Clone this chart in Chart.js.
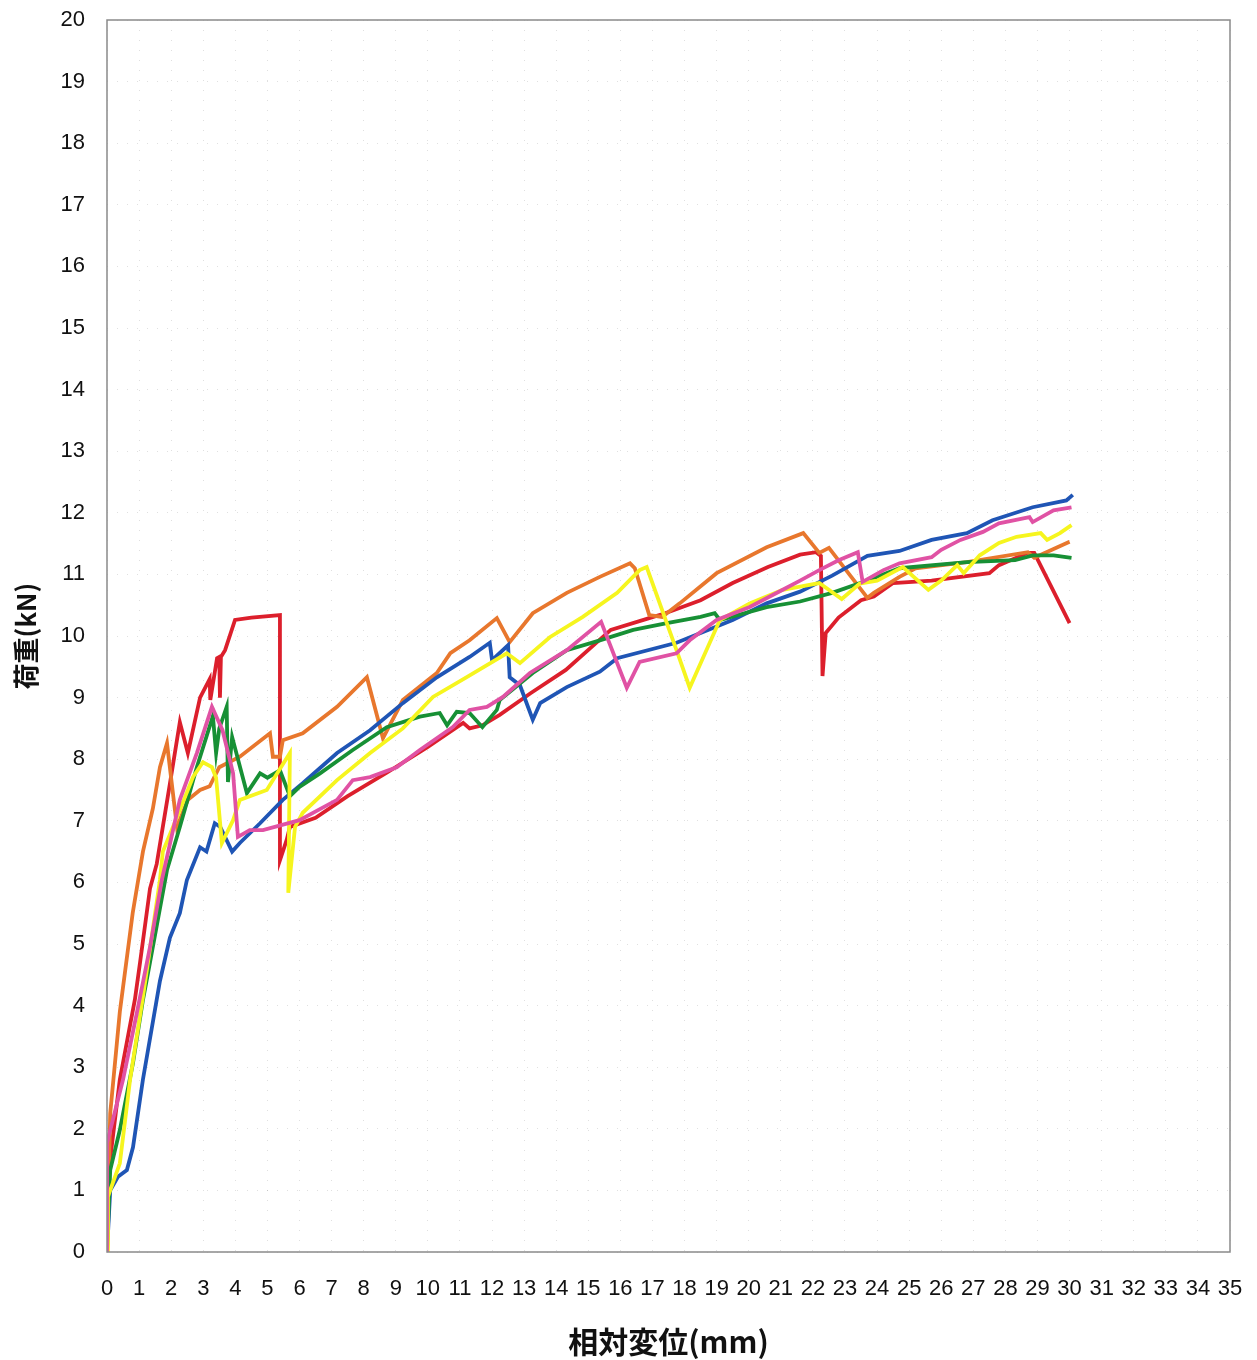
<!DOCTYPE html>
<html>
<head>
<meta charset="utf-8">
<script src="https://cdn.jsdelivr.net/npm/chart.js@4.4.0/dist/chart.umd.min.js"></script>
<style>
  body { margin:0; background:#fff; }
</style>
</head>
<body>
<canvas id="c" width="1257" height="1360"></canvas>
<script>
// load (kN) vs relative displacement (mm), six specimens
var red = [[0,0],[0.05,1.3],[0.4,2.8],[0.87,4.1],[1.03,4.7],[1.34,5.9],[1.55,6.3],[1.96,7.6],[2.27,8.6],[2.52,8.1],[2.9,9.0],[3.2,9.3],[3.22,8.96],[3.43,9.64],[3.5,9.66],[3.52,9.0],[3.55,9.66],[3.68,9.77],[3.99,10.26],[4.5,10.3],[5.39,10.34],[5.39,6.36],[5.6,6.69],[5.7,6.9],[6.5,7.05],[7.5,7.4],[8.72,7.78],[10.0,8.2],[11.1,8.59],[11.3,8.5],[11.7,8.55],[12.24,8.72],[13.2,9.07],[14.3,9.45],[15.7,10.1],[16.9,10.29],[17.4,10.37],[18.5,10.58],[19.5,10.86],[20.6,11.12],[21.6,11.32],[22.1,11.36],[22.25,11.3],[22.3,9.35],[22.4,10.05],[22.8,10.3],[23.5,10.58],[23.9,10.64],[24.5,10.86],[25.7,10.9],[27.5,11.02],[27.8,11.15],[28.7,11.35],[28.9,11.35],[30.0,10.21]]
var orange = [[0,0],[0.1,2.25],[0.4,3.9],[0.8,5.5],[1.12,6.5],[1.43,7.2],[1.65,7.87],[1.87,8.26],[2.18,6.9],[2.52,7.34],[2.9,7.5],[3.2,7.56],[3.5,7.87],[4.14,8.04],[5.08,8.42],[5.17,8.04],[5.39,8.04],[5.48,8.31],[6.1,8.42],[7.17,8.85],[8.1,9.33],[8.6,8.34],[9.22,8.96],[10.28,9.4],[10.7,9.72],[11.3,9.93],[12.15,10.29],[12.55,9.9],[13.27,10.37],[14.33,10.7],[15.36,10.96],[16.3,11.18],[16.45,11.1],[16.9,10.34],[17.3,10.31],[17.85,10.53],[19.0,11.02],[20.56,11.44],[21.7,11.67],[22.2,11.35],[22.5,11.43],[23.7,10.62],[23.9,10.7],[24.7,10.96],[25.2,11.1],[26.8,11.2],[28.7,11.36],[28.9,11.27],[30.0,11.53]]
var blue = [[0,0],[0.1,1.0],[0.34,1.22],[0.62,1.33],[0.81,1.7],[1.12,2.8],[1.65,4.4],[1.96,5.1],[2.27,5.5],[2.49,6.04],[2.9,6.57],[3.1,6.5],[3.36,6.96],[3.53,6.9],[3.9,6.5],[4.14,6.64],[4.77,6.96],[5.48,7.34],[6.1,7.61],[7.17,8.1],[8.2,8.47],[9.22,8.91],[10.28,9.33],[11.3,9.66],[11.93,9.89],[12.0,9.61],[12.5,9.85],[12.55,9.33],[12.87,9.2],[13.27,8.64],[13.5,8.91],[14.33,9.17],[15.36,9.42],[15.9,9.64],[17.75,9.89],[18.5,10.05],[19.5,10.26],[20.56,10.53],[21.6,10.72],[22.6,10.98],[23.7,11.3],[24.7,11.38],[25.7,11.56],[26.8,11.67],[27.6,11.88],[28.85,12.09],[29.9,12.2],[30.1,12.29]]
var green = [[0,0],[0.1,1.33],[0.4,1.98],[0.81,3.07],[1.12,4.09],[1.34,4.7],[1.87,6.2],[2.27,6.9],[2.8,7.87],[3.3,8.7],[3.4,8.1],[3.5,8.5],[3.73,8.85],[3.77,7.63],[3.9,8.36],[4.36,7.45],[4.77,7.77],[5.0,7.7],[5.39,7.82],[5.7,7.4],[6.0,7.55],[6.64,7.77],[7.66,8.15],[8.72,8.52],[9.75,8.69],[10.37,8.75],[10.6,8.55],[10.9,8.77],[11.3,8.75],[11.7,8.52],[12.15,8.8],[12.24,8.96],[13.27,9.4],[14.33,9.77],[15.36,9.93],[16.4,10.1],[17.45,10.21],[18.5,10.31],[18.94,10.37],[19.1,10.26],[20.56,10.47],[21.6,10.56],[22.6,10.7],[23.7,10.9],[24.7,11.1],[26.8,11.2],[28.3,11.23],[28.85,11.31],[29.5,11.31],[30.06,11.27]]
var yellow = [[0,0],[0.03,0.9],[0.4,1.44],[0.72,2.8],[1.12,4.14],[1.65,6.04],[1.74,6.5],[2.18,7.06],[2.68,7.71],[2.99,7.95],[3.27,7.87],[3.4,7.7],[3.58,6.64],[3.93,7.01],[4.14,7.34],[4.98,7.5],[5.7,8.1],[5.65,5.83],[5.86,6.9],[6.1,7.13],[7.17,7.66],[8.2,8.1],[9.22,8.5],[10.16,9.01],[11.2,9.33],[12.46,9.72],[12.87,9.56],[13.8,9.98],[14.83,10.31],[15.9,10.7],[16.6,11.07],[16.82,11.12],[17.75,9.77],[18.16,9.16],[19.1,10.26],[20.03,10.53],[21.06,10.75],[21.6,10.8],[22.2,10.86],[22.9,10.6],[23.46,10.85],[24.0,10.9],[24.8,11.12],[25.6,10.75],[26.0,10.9],[26.5,11.15],[26.7,11.02],[27.2,11.31],[27.8,11.51],[28.35,11.61],[29.1,11.67],[29.3,11.56],[29.7,11.67],[30.06,11.8]]
var pink = [[0,0],[0,1.77],[0.5,2.8],[0.93,3.88],[1.34,4.95],[1.71,6.04],[2.27,7.34],[2.8,8.1],[3.27,8.85],[3.6,8.47],[3.93,7.77],[4.08,6.74],[4.45,6.85],[4.86,6.85],[6.0,7.01],[7.17,7.34],[7.66,7.66],[8.2,7.71],[9.03,7.87],[9.75,8.15],[10.78,8.52],[11.3,8.8],[11.84,8.85],[12.34,9.01],[13.18,9.4],[14.33,9.77],[15.4,10.23],[16.2,9.16],[16.6,9.58],[17.75,9.72],[18.16,9.93],[19.0,10.26],[20.03,10.47],[21.06,10.75],[21.6,10.9],[22.2,11.07],[22.8,11.23],[23.4,11.36],[23.55,10.88],[24.2,11.07],[24.7,11.18],[25.7,11.28],[26.0,11.4],[26.6,11.56],[27.3,11.69],[27.8,11.83],[28.75,11.93],[28.85,11.85],[29.5,12.04],[30.06,12.09]]

var xTitle = '相対変位(mm)'
var yTitle = '荷重(kN)'

function pts(a){
    return a.map(function(p){ return {x:p[0], y:p[1]} })
}
function ds(a, col){
    return {data:pts(a), borderColor:col, backgroundColor:col, borderWidth:3.8,
            showLine:true, pointRadius:0, tension:0, fill:false}
}

// plot frame
var frame = {
    id:'frame',
    afterDraw: function(chart){
        var a = chart.chartArea, ctx = chart.ctx
        ctx.save()
        ctx.strokeStyle = '#8a8a8a'
        ctx.lineWidth = 1.5
        ctx.strokeRect(a.left, a.top, a.right-a.left, a.bottom-a.top)
        ctx.restore()
    }
}

var ctx = document.getElementById('c').getContext('2d')
var chart = new Chart(ctx, {
    type: 'scatter',
    data: {
        datasets: [
            ds(pink, '#e052a4'),
            ds(yellow, '#f6f51e'),
            ds(green, '#179035'),
            ds(blue, '#1f55b5'),
            ds(orange, '#e8772d'),
            ds(red, '#dc1f2c')
        ]
    },
    plugins: [frame],
    options: {
        responsive: false,
        animation: false,
        devicePixelRatio: 1,
        layout: {padding: {top: 20, right: 27, left: 0, bottom: 0}},
        plugins: {legend: {display:false}, tooltip: {enabled:false}},
        scales: {
            x: {
                type: 'linear', min: 0, max: 35,
                afterFit: function(s){ s.height = 108; s.paddingLeft = 0; s.paddingRight = 0 },
                grid: {color:'rgba(0,0,0,0.12)', drawTicks:false},
                border: {display:false, dash:[1,9]},
                ticks: {stepSize:1, color:'#111', padding:24,
                        font:{family:'"Liberation Sans Narrow", "Liberation Sans", Arial, sans-serif', size:22}},
                title: {display:true, text:xTitle, color:'#111', padding:{top:2, bottom:0},
                        font:{family:'"Noto Sans CJK JP", sans-serif', size:30, weight:'bold'}}
            },
            y: {
                min: 0, max: 20,
                afterFit: function(s){ s.width = 107; s.paddingTop = 0; s.paddingBottom = 0 },
                grid: {color:'rgba(0,0,0,0.12)', drawTicks:false},
                border: {display:false, dash:[1,9]},
                ticks: {stepSize:1, color:'#111', padding:22,
                        font:{family:'"Liberation Sans", Arial, sans-serif', size:22}},
                title: {display:true, text:yTitle, color:'#111', padding:{top:11, bottom:0},
                        font:{family:'"Noto Sans CJK JP", sans-serif', size:26, weight:'bold'}}
            }
        }
    }
})
</script>
</body>
</html>
